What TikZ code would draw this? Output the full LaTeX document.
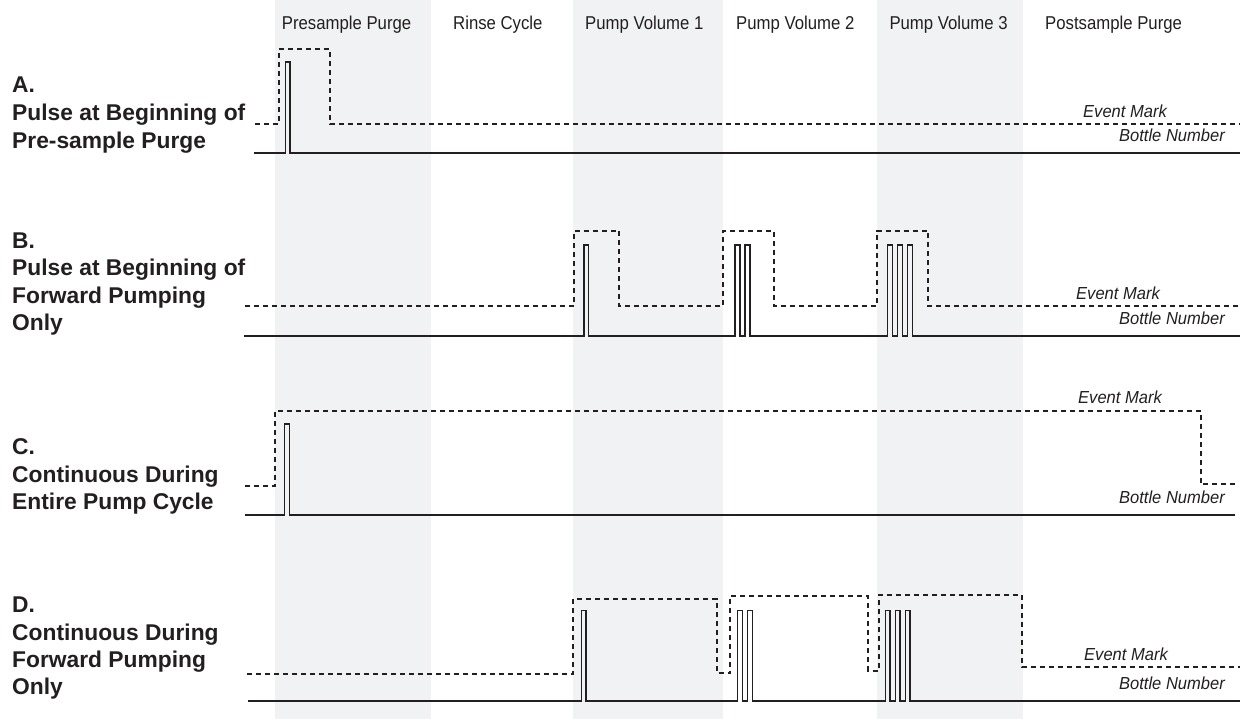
\documentclass[tikz,border=0pt]{standalone}
\usepackage{fontspec}
\setmainfont{Liberation Sans}
\newfontfamily\hdrfont[FakeStretch=0.9]{Liberation Sans}
\newfontfamily\tagfont[FakeStretch=0.95]{Liberation Sans}
\definecolor{shade}{HTML}{F1F2F4}
\definecolor{ink}{HTML}{231F20}
\tikzset{
  sig/.style={draw=ink, line width=1.3pt, line join=miter},
  evt/.style={draw=ink, line width=1.8pt, dash pattern=on 5pt off 4pt},
  lbl/.style={font=\fontsize{22.8}{26}\selectfont\bfseries, text=ink, anchor=base west, inner sep=0pt},
  hdr/.style={font=\hdrfont\fontsize{18.6}{20}\selectfont, text=ink, anchor=base west, inner sep=0pt},
  tag/.style={font=\tagfont\fontsize{17.4}{18}\selectfont\itshape, text=ink, anchor=base east, inner sep=0pt},
  col/.style={fill=shade, draw=none}
}
\begin{document}
\begin{tikzpicture}[x=1pt,y=-1pt]
\useasboundingbox (0,0) rectangle (1244,719);
\fill[white] (0,0) rectangle (1244,719);
% shaded phases
\path[col] (275,0) rectangle (431,719);
\path[col] (573,0) rectangle (723,719);
\path[col] (877,0) rectangle (1023,719);
% headers
\node[hdr] (h1) at (281.7,29.3) {Presample Purge};
\node[hdr] (h2) at (453,29.3) {Rinse Cycle};
\node[hdr] (h3) at (585,29.3) {Pump Volume 1};
\node[hdr] (h4) at (736,29.3) {Pump Volume 2};
\node[hdr] (h5) at (889.3,29.3) {Pump Volume 3};
\node[hdr] (h6) at (1045,29.3) {Postsample Purge};
% row labels
\node[lbl] (a1) at (12,92.7) {A.};
\node[lbl] (a2) at (12,120.7) {Pulse at Beginning of};
\node[lbl] (a3) at (12,148.3) {Pre-sample Purge};
\node[lbl] (b1) at (12,248.5) {B.};
\node[lbl] (b2) at (12,276) {Pulse at Beginning of};
\node[lbl] (b3) at (12,303.3) {Forward Pumping};
\node[lbl] (b4) at (12,330.7) {Only};
\node[lbl] (c1) at (12,454.5) {C.};
\node[lbl] (c2) at (12,482) {Continuous During};
\node[lbl] (c3) at (12,509.5) {Entire Pump Cycle};
\node[lbl] (d1) at (12,612.5) {D.};
\node[lbl] (d2) at (12,640) {Continuous During};
\node[lbl] (d3) at (12,667.3) {Forward Pumping};
\node[lbl] (d4) at (12,694.3) {Only};
% row A
\draw[evt] (255,124) -- (278.7,124) -- (278.7,49) -- (330,49) -- (330,124) -- (1240,124);
\draw[sig] (254,153) -- (285.7,153) -- (285.7,62) -- (290,62) -- (290,153) -- (1240,153);
\node[tag] (ae) at (1167,117.3) {Event Mark};
\node[tag] (ab) at (1225,141.7) {Bottle Number};
% row B
\draw[evt] (245,306) -- (574,306) -- (574,230.7) -- (619,230.7) -- (619,306) -- (723,306) -- (723,230.7) -- (774,230.7) -- (774,306) -- (876.7,306) -- (876.7,230.7) -- (928,230.7) -- (928,306) -- (1240,306);
\draw[sig] (244,336) -- (584,336) -- (584,245) -- (588.7,245) -- (588.7,336)
  -- (735,336) -- (735,245) -- (740,245) -- (740,336)
  -- (745,336) -- (745,245) -- (750,245) -- (750,336)
  -- (887.7,336) -- (887.7,245) -- (892.7,245) -- (892.7,336)
  -- (897.3,336) -- (897.3,245) -- (902.3,245) -- (902.3,336)
  -- (907.3,336) -- (907.3,245) -- (912.3,245) -- (912.3,336) -- (1240,336);
\node[tag] (be) at (1160,299) {Event Mark};
\node[tag] (bb) at (1225,324.7) {Bottle Number};
% row C
\draw[evt] (245,485.7) -- (275.3,485.7) -- (275.3,410.7) -- (1201,410.7) -- (1201,484.3) -- (1237,484.3);
\draw[sig] (245,515) -- (284.7,515) -- (284.7,424) -- (289.3,424) -- (289.3,515) -- (1235,515);
\node[tag] (ce) at (1162,403.7) {Event Mark};
\node[tag] (cb) at (1225,503.7) {Bottle Number};
% row D
\draw[evt] (247,674) -- (573.3,674) -- (573.3,599) -- (716.7,599) -- (716.7,673.3) -- (730,673.3) -- (730,596) -- (868.3,596) -- (868.3,670.7) -- (879.3,670.7) -- (879.3,595) -- (1021.7,595) -- (1021.7,667.3) -- (1240,667.3);
\draw[sig] (248,701) -- (581.7,701) -- (581.7,610.7) -- (586,610.7) -- (586,701)
  -- (737.7,701) -- (737.7,610.7) -- (742.3,610.7) -- (742.3,701)
  -- (747.7,701) -- (747.7,610.7) -- (752.3,610.7) -- (752.3,701)
  -- (885.7,701) -- (885.7,610.7) -- (890,610.7) -- (890,701)
  -- (895.7,701) -- (895.7,610.7) -- (900,610.7) -- (900,701)
  -- (905.7,701) -- (905.7,610.7) -- (910,610.7) -- (910,701) -- (1240,701);
\node[tag] (de) at (1168,660.3) {Event Mark};
\node[tag] (db) at (1225,689.4) {Bottle Number};
\end{tikzpicture}
\end{document}
